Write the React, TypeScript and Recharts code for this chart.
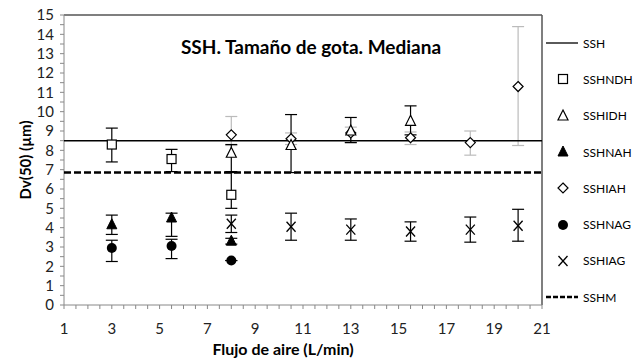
import { ScatterChart, Scatter, XAxis, YAxis, ErrorBar, ReferenceLine } from "recharts"

// flujo de aire (L/min) and Dv(50) values per series, errors as [below, above]
const ndhX = [3, 5.5, 8]
const ndhY = [8.3, 7.55, 5.7]
const ndhErr = [[0.9, 0.85], [0.65, 0.5], [0.7, 1.2]]

const idhX = [8, 10.5, 13, 15.5]
const idhY = [7.85, 8.25, 9.0, 9.5]
const idhErr = [[1.0, 0.45], [1.4, 1.6], [0.6, 0.7], [0.7, 0.8]]

const nahX = [3, 5.5, 8]
const nahY = [4.15, 4.5, 3.3]
const nahErr = [[0.5, 0.5], [0.95, 0.25], [0.15, 0.15]]

const iahX = [8, 10.5, 13, 15.5, 18, 20]
const iahY = [8.8, 8.6, 8.9, 8.65, 8.4, 11.3]
const iahErr = [[0.55, 0.95], [0.3, 0.3], [0.5, 0.3], [0.35, 0.3], [0.65, 0.6], [3.05, 3.1]]

const nagX = [3, 5.5, 8]
const nagY = [2.95, 3.05, 2.3]
const nagErr = [[0.7, 0.4], [0.65, 0.35], [0, 0]]

const iagX = [8, 10.5, 13, 15.5, 18, 20]
const iagY = [4.2, 4.05, 3.9, 3.8, 3.9, 4.1]
const iagErr = [[0.45, 0.45], [0.7, 0.7], [0.55, 0.55], [0.5, 0.5], [0.65, 0.65], [0.8, 0.85]]

const lineX = [1, 21]
const sshY = 8.5
const sshmY = 6.85

const xTickLabels = [1, 3, 5, 7, 9, 11, 13, 15, 17, 19, 21]
const yTickLabels = [0, 1, 2, 3, 4, 5, 6, 7, 8, 9, 10, 11, 12, 13, 14, 15]

const legendNames = ["SSH", "SSHNDH", "SSHIDH", "SSHNAH", "SSHIAH", "SSHNAG", "SSHIAG", "SSHM"]

const FONT = "Lato, 'Open Sans', sans-serif"

const build = (xs: number[], ys: number[], errs?: number[][]) =>
  xs.map((x, i) => ({ x, y: ys[i], err: errs ? errs[i] : undefined }))

// minor ticks every 0.5 between labelled values
const withHalves = (vals: number[], step: number) => {
  const out: number[] = []
  for (let v = vals[0]; v <= vals[vals.length - 1] + 1e-9; v += step) out.push(Math.round(v * 10) / 10)
  return out
}
const xTicks = withHalves(xTickLabels, 0.5)
const yTicks = withHalves(yTickLabels, 0.5)

const Square = ({ cx, cy }: any) => (
  <rect x={cx - 4.5} y={cy - 4.5} width={9} height={9} fill="#fff" stroke="#000" strokeWidth={1.2} />
)
const OpenTri = ({ cx, cy }: any) => (
  <polygon points={`${cx},${cy - 6} ${cx + 5},${cy + 4} ${cx - 5},${cy + 4}`} fill="#fff" stroke="#000" strokeWidth={1.2} />
)
const FilledTri = ({ cx, cy }: any) => (
  <polygon points={`${cx},${cy - 6} ${cx + 5},${cy + 4} ${cx - 5},${cy + 4}`} fill="#000" stroke="#000" strokeWidth={1} />
)
const Diamond = ({ cx, cy }: any) => (
  <polygon points={`${cx},${cy - 5} ${cx + 5},${cy} ${cx},${cy + 5} ${cx - 5},${cy}`} fill="#fff" stroke="#000" strokeWidth={1.2} />
)
const Dot = ({ cx, cy }: any) => <circle cx={cx} cy={cy} r={5} fill="#000" />
const Cross = ({ cx, cy }: any) => (
  <g stroke="#000" strokeWidth={1.3}>
    <line x1={cx - 4.5} y1={cy - 5} x2={cx + 4.5} y2={cy + 5} />
    <line x1={cx - 4.5} y1={cy + 5} x2={cx + 4.5} y2={cy - 5} />
  </g>
)
const NoShape = () => <g />

const legendIcon = (i: number) => {
  const c = { cx: 17, cy: 8 }
  switch (i) {
    case 0: return <line x1={0} y1={8} x2={32} y2={8} stroke="#000" strokeWidth={1.3} />
    case 1: return <Square {...c} />
    case 2: return <OpenTri {...c} />
    case 3: return <FilledTri {...c} />
    case 4: return <Diamond {...c} />
    case 5: return <Dot {...c} />
    case 6: return <Cross {...c} />
    default: return <line x1={0} y1={8} x2={32} y2={8} stroke="#000" strokeWidth={2.5} strokeDasharray="5 2" />
  }
}

const YLabel = ({ viewBox }: any) => {
  const cy = viewBox.y + viewBox.height / 2
  return (
    <text x={31} y={cy} transform={`rotate(-90, 31, ${cy})`} textAnchor="middle"
      fontFamily={FONT} fontWeight={700} fontSize={15} fill="#000">
      Dv(50) (µm)
    </text>
  )
}

export default function App() {
  const tickStyle = { fontFamily: FONT, fontSize: 15, fill: "#222" }
  return (
    <div style={{ position: "absolute", left: 0, top: 0, width: 637, height: 359, background: "#fff" }}>
      <ScatterChart width={637} height={359} margin={{ top: 15, right: 95, bottom: 0, left: 0 }}>
        <XAxis type="number" dataKey="x" domain={[1, 21]} ticks={xTicks} interval={0} height={54}
          tickFormatter={(v: number) => (xTickLabels.includes(v) ? String(v) : "")}
          tick={tickStyle} tickSize={4} tickMargin={14} stroke="#888" allowDataOverflow />
        <YAxis type="number" dataKey="y" domain={[0, 15]} ticks={yTicks} interval={0} width={64}
          tickFormatter={(v: number) => (yTickLabels.includes(v) ? String(v) : "")}
          tick={tickStyle} tickSize={4} tickMargin={6} stroke="#888" allowDataOverflow
          label={<YLabel />} />
        <ReferenceLine y={15} stroke="#555" strokeWidth={1.5} />
        <ReferenceLine x={21} stroke="#555" strokeWidth={1.5} />
        <text x={311} y={54} textAnchor="middle" fontFamily={FONT} fontWeight={700} fontSize={19} fill="#000">
          SSH. Tamaño de gota. Mediana
        </text>
        <text x={283} y={355} textAnchor="middle" fontFamily={FONT} fontWeight={700} fontSize={16} fill="#000">
          Flujo de aire (L/min)
        </text>

        <Scatter name="SSH" data={build(lineX, [sshY, sshY])} line={{ stroke: "#000", strokeWidth: 1.5 }}
          shape={NoShape} isAnimationActive={false} />
        <Scatter name="SSHM" data={build(lineX, [sshmY, sshmY])}
          line={{ stroke: "#000", strokeWidth: 2.5, strokeDasharray: "7 3" }}
          shape={NoShape} isAnimationActive={false} />

        <Scatter name="SSHIAH" data={build(iahX, iahY, iahErr)} shape={Diamond} isAnimationActive={false}>
          <ErrorBar dataKey="err" direction="y" width={6} stroke="#bbb" strokeWidth={1.2} />
        </Scatter>
        <Scatter name="SSHNDH" data={build(ndhX, ndhY, ndhErr)} shape={Square} isAnimationActive={false}>
          <ErrorBar dataKey="err" direction="y" width={6} stroke="#000" strokeWidth={1.2} />
        </Scatter>
        <Scatter name="SSHIDH" data={build(idhX, idhY, idhErr)} shape={OpenTri} isAnimationActive={false}>
          <ErrorBar dataKey="err" direction="y" width={6} stroke="#000" strokeWidth={1.2} />
        </Scatter>
        <Scatter name="SSHNAH" data={build(nahX, nahY, nahErr)} shape={FilledTri} isAnimationActive={false}>
          <ErrorBar dataKey="err" direction="y" width={6} stroke="#000" strokeWidth={1.2} />
        </Scatter>
        <Scatter name="SSHNAG" data={build(nagX, nagY, nagErr)} shape={Dot} isAnimationActive={false}>
          <ErrorBar dataKey="err" direction="y" width={6} stroke="#000" strokeWidth={1.2} />
        </Scatter>
        <Scatter name="SSHIAG" data={build(iagX, iagY, iagErr)} shape={Cross} isAnimationActive={false}>
          <ErrorBar dataKey="err" direction="y" width={6} stroke="#000" strokeWidth={1.2} />
        </Scatter>
      </ScatterChart>

      <div style={{ position: "absolute", left: 546, top: 25, fontFamily: FONT, fontSize: 12, color: "#000" }}>
        {legendNames.map((n, i) => (
          <div key={n} style={{ display: "flex", alignItems: "center", height: i === 7 ? 36 : 36.3 }}>
            <svg width={34} height={16} style={{ marginRight: 3 }}>{legendIcon(i)}</svg>
            <span>{n}</span>
          </div>
        ))}
      </div>
    </div>
  )
}
